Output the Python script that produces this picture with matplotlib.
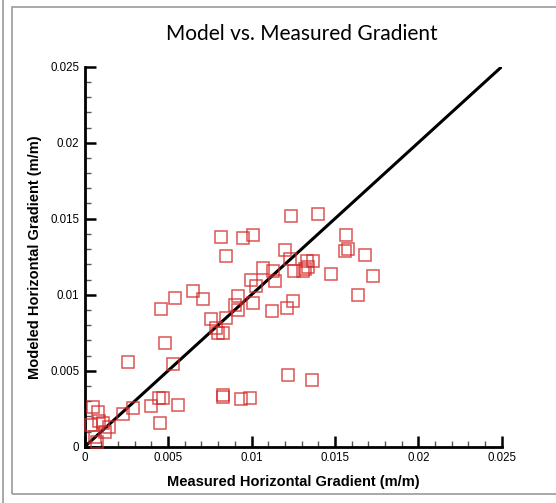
import matplotlib
matplotlib.use("Agg")
import matplotlib.pyplot as plt
from matplotlib.patches import Rectangle
from matplotlib.lines import Line2D
from matplotlib.ticker import MultipleLocator

measured = [0.00819, 0.00949, 0.01009, 0.00845, 0.01069, 0.01131, 0.01201, 0.01233,
            0.00999, 0.01029, 0.01139, 0.00651, 0.00540, 0.00709, 0.00459, 0.00921,
            0.00901, 0.00919, 0.01009, 0.01121, 0.00759, 0.00847, 0.00789, 0.00829,
            0.00799, 0.00480, 0.01239, 0.01399, 0.01568, 0.01577, 0.01562, 0.01680,
            0.01730, 0.01639, 0.01257, 0.01311, 0.01331, 0.01371, 0.01341, 0.01321,
            0.01478, 0.01251, 0.01211, 0.00261, 0.00531, 0.00829, 0.00831, 0.00447,
            0.00471, 0.00397, 0.00559, 0.00291, 0.00230, 0.00450, 0.00052, 0.00078,
            0.00038, 0.00084, 0.00112, 0.00147, 0.00122, 0.00062, 0.00072, 0.00935,
            0.00991, 0.01221, 0.01361]
modeled = [0.01380, 0.01375, 0.01391, 0.01257, 0.01176, 0.01156, 0.01292, 0.01237,
           0.01097, 0.01057, 0.01092, 0.01026, 0.00976, 0.00972, 0.00906, 0.00991,
           0.00932, 0.00899, 0.00943, 0.00893, 0.00838, 0.00847, 0.00781, 0.00746,
           0.00750, 0.00682, 0.01518, 0.01531, 0.01391, 0.01299, 0.01286, 0.01259,
           0.01123, 0.01000, 0.01156, 0.01156, 0.01222, 0.01222, 0.01184, 0.01167,
           0.01136, 0.00957, 0.00913, 0.00559, 0.00546, 0.00342, 0.00330, 0.00322,
           0.00320, 0.00266, 0.00272, 0.00255, 0.00217, 0.00156, 0.00261, 0.00228,
           0.00143, 0.00171, 0.00154, 0.00132, 0.00095, 0.00062, 0.00033, 0.00314,
           0.00318, 0.00472, 0.00437]
line_x = [0.0, 0.025]
line_y = [0.0, 0.025]
ticks = [0, 0.005, 0.01, 0.015, 0.02, 0.025]
tick_labels = ["0", "0.005", "0.01", "0.015", "0.02", "0.025"]

fig = plt.figure(figsize=(5.56, 5.03), dpi=100)
fig.patch.set_facecolor("white")

# outer gray frame
fig.add_artist(Rectangle((12/556, 1 - 494/503), 1.2, (494-7)/503, transform=fig.transFigure,
                         fill=False, edgecolor="#9a9a9a", linewidth=1.2))
fig.add_artist(Line2D([3/556, 3/556], [0, 1], transform=fig.transFigure,
                      color="#9a9a9a", linewidth=1.2))

ax = fig.add_axes([84.7/556, 56.3/503, 417/556, 380/503])
ax.plot(line_x, line_y, color="black", linewidth=2.2, zorder=2)
ax.plot(measured, modeled, linestyle="none", marker="s", markersize=8.5,
        markerfacecolor="none", markeredgecolor="#d42a2a", markeredgewidth=1.1,
        alpha=0.8, zorder=3, clip_on=False)

ax.set_xlim(0, 0.025)
ax.set_ylim(0, 0.025)
ax.set_xticks(ticks)
ax.set_yticks(ticks)
ax.set_xticklabels(tick_labels, fontsize=8.3, family="Liberation Sans")
ax.set_yticklabels(tick_labels, fontsize=8.3, family="Liberation Sans")
ax.xaxis.set_minor_locator(MultipleLocator(0.001))
ax.yaxis.set_minor_locator(MultipleLocator(0.001))
ax.tick_params(which="major", direction="in", length=8, width=1.8, pad=4)
ax.tick_params(which="minor", direction="in", length=4.5, width=1.0, color="#555555")
for s in ["top", "right"]:
    ax.spines[s].set_visible(False)
for s in ["left", "bottom"]:
    ax.spines[s].set_linewidth(2.0)

ax.set_xlabel("Measured Horizontal Gradient (m/m)", fontsize=10.5, fontweight="bold",
              family="Liberation Sans", labelpad=8)
ax.set_ylabel("Modeled Horizontal Gradient (m/m)", fontsize=10.5, fontweight="bold",
              family="Liberation Sans", labelpad=6)

fig.text(302/556, 1 - 34/503, "Model vs. Measured Gradient", ha="center", va="center",
         fontsize=15, family="Lato")

fig.savefig("out.png", dpi=100)
